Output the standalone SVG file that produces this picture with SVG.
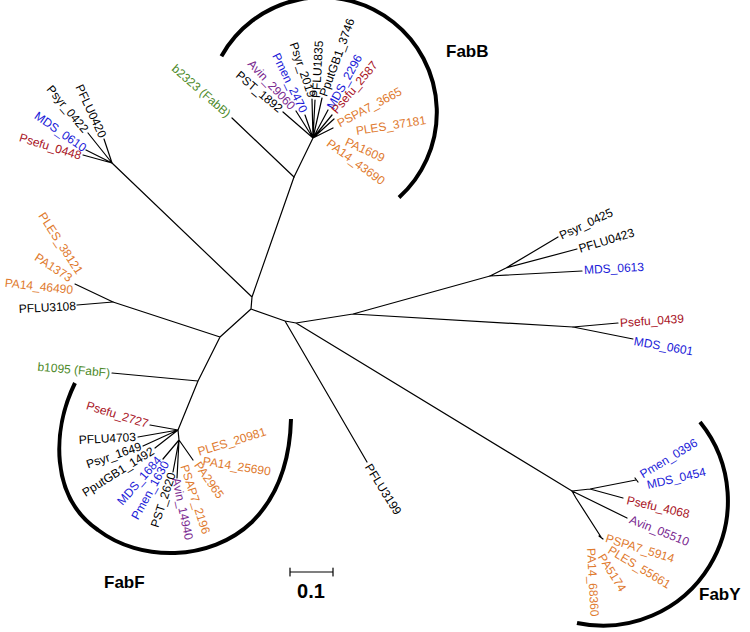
<svg xmlns="http://www.w3.org/2000/svg" width="750" height="632" viewBox="0 0 750 632">
<style>
.br{fill:none;stroke:#000;stroke-width:1.2;stroke-linecap:round}
.arc{fill:none;stroke:#000;stroke-width:4;stroke-linecap:butt}
.t{font-family:"Liberation Sans",Arial,sans-serif;font-size:12px;dominant-baseline:central}
.e{text-anchor:end}
.k{fill:#000}.b{fill:#1a1ad8}.r{fill:#a8121e}.p{fill:#7a2890}.o{fill:#e07a2e}.g{fill:#4d8a2a}
.cl{font-family:"Liberation Sans",Arial,sans-serif;font-size:17px;font-weight:bold;fill:#000}
</style>
<rect width="750" height="632" fill="#fff"/>
<g id="connectors">
<path class="br" d="M252,297L251,309M252,297L294,177M252,297L112,163M251,309L220,337M220,337L113,302M220,337L198,381M198,381L112,373M198,381L178,430M251,309L285,321M285,321L367,462M285,321L296,323M296,323L353,314M353,314L490,276M353,314L573,327M296,323L572,491"/>
<path class="br" d="M294,177L232,118M294,177L313,138M313,138L283,112M313,138L296,111M313,138L305,115M313,138L312,99M313,138L315,100M313,138L322,98M313,138L328,110M313,138L332,115M313,138L334,119M313,138L333,128"/>
<path class="br" d="M112,163L104,139M112,163L88,133M112,163L86,150M112,163L83,155"/>
<path class="br" d="M113,302L77,305M113,302L75,284"/>
<path class="br" d="M178,430L150,425M178,430L138,437M178,430L143,446M178,430L155,448M178,430L179,440M179,440L163,459M179,440L173,472M179,440L177,478M179,440L193,460"/>
<path class="br" d="M490,276L506,268L558,237M506,268L577,249M490,276L582,271M573,327L618,323M573,327L633,339"/>
<path class="br" d="M572,491L590,489L636,480M590,489L623,498M572,491L627,518M572,491L576,498L601,537M635,478L638,482M599,536L603,539"/>
</g>
<g id="clades">
<path class="arc" d="M221.4,56.2A115,115 0 1 1 399,197.5"/>
<path class="arc" d="M75,383C52,430 50,497 98,530C140,562 210,562 252,522C278,496 290,460 291,419"/>
<path class="arc" d="M700,422A125,125 0 0 1 577,623"/>
<text class="cl" x="446" y="57">FabB</text>
<text class="cl" x="104" y="588">FabF</text>
<text class="cl" x="699" y="600">FabY</text>
</g>
<g id="scale">
<path class="br" d="M290,572L333,572M290,568L290,576M333,568L333,576"/>
<text x="311" y="598" text-anchor="middle" style="font-family:'Liberation Sans',Arial,sans-serif;font-size:20px;font-weight:bold">0.1</text>
</g>
<g id="n1"><text class="t g e" transform="translate(229,115) rotate(41)">b2323 (FabB)</text></g>
<g id="n2"><text class="t k e" transform="translate(281,110) rotate(40)">PST_1892</text></g>
<g id="n3"><text class="t p e" transform="translate(293,108) rotate(47)">Avin_29060</text></g>
<g id="n4"><text class="t b e" transform="translate(304,112) rotate(64)">Pmen_2470</text></g>
<g id="n5"><text class="t k e" transform="translate(312,97) rotate(71)">Psyr_2019</text></g>
<g id="n6"><text class="t k" transform="translate(316,98) rotate(-87)">PFLU1835</text></g>
<g id="n7"><text class="t k" transform="translate(323,96) rotate(-70)">PputGB1_3746</text></g>
<g id="n8"><text class="t b" transform="translate(330,108) rotate(-61)">MDS_2296</text></g>
<g id="n9"><text class="t r" transform="translate(334,112) rotate(-50)">Psefu_2587</text></g>
<g id="n10"><text class="t o" transform="translate(338,124) rotate(-28)">PSPA7_3665</text></g>
<g id="n11"><text class="t o" transform="translate(356,131) rotate(-9)">PLES_37181</text></g>
<g id="n12"><text class="t o" transform="translate(346,141) rotate(25)">PA1609</text></g>
<g id="n13"><text class="t o" transform="translate(328,142) rotate(36)">PA14_43690</text></g>
<g id="n14"><text class="t k e" transform="translate(103,137) rotate(65)">PFLU0420</text></g>
<g id="n15"><text class="t k e" transform="translate(86,131) rotate(50)">Psyr_0422</text></g>
<g id="n16"><text class="t b e" transform="translate(85,149) rotate(35)">MDS_0610</text></g>
<g id="n17"><text class="t r e" transform="translate(81,156) rotate(17)">Psefu_0448</text></g>
<g id="n18"><text class="t o e" transform="translate(80,273) rotate(57)">PLES_38121</text></g>
<g id="n19"><text class="t o e" transform="translate(71,279) rotate(33)">PA1373</text></g>
<g id="n20"><text class="t o e" transform="translate(73,290) rotate(6)">PA14_46490</text></g>
<g id="n21"><text class="t k e" transform="translate(76,306) rotate(-3)">PFLU3108</text></g>
<g id="n22"><text class="t g e" transform="translate(110,373) rotate(5)">b1095 (FabF)</text></g>
<g id="n23"><text class="t r e" transform="translate(148,424) rotate(17)">Psefu_2727</text></g>
<g id="n24"><text class="t k e" transform="translate(136,437) rotate(-3)">PFLU4703</text></g>
<g id="n25"><text class="t k e" transform="translate(141,446) rotate(-19)">Psyr_1649</text></g>
<g id="n26"><text class="t k e" transform="translate(153,450) rotate(-32)">PputGB1_1492</text></g>
<g id="n27"><text class="t b e" transform="translate(159,458) rotate(-49)">MDS_1684</text></g>
<g id="n28"><text class="t b e" transform="translate(166,462) rotate(-61)">Pmen_1630</text></g>
<g id="n29"><text class="t k e" transform="translate(172,473) rotate(-72)">PST_2620</text></g>
<g id="n30"><text class="t p" transform="translate(176,478) rotate(78)">Avin_14940</text></g>
<g id="n31"><text class="t o" transform="translate(184,465) rotate(72)">PSAP7_2196</text></g>
<g id="n32"><text class="t o" transform="translate(197,463) rotate(55)">PA2965</text></g>
<g id="n33"><text class="t o" transform="translate(203,461) rotate(9)">PA14_25690</text></g>
<g id="n34"><text class="t o" transform="translate(198,452) rotate(-17)">PLES_20981</text></g>
<g id="n35"><text class="t k" transform="translate(560,236) rotate(-25)">Psyr_0425</text></g>
<g id="n36"><text class="t k" transform="translate(579,249) rotate(-17)">PFLU0423</text></g>
<g id="n37"><text class="t b" transform="translate(584,270) rotate(-3)">MDS_0613</text></g>
<g id="n38"><text class="t r" transform="translate(620,323) rotate(-4)">Psefu_0439</text></g>
<g id="n39"><text class="t b" transform="translate(634,341) rotate(10)">MDS_0601</text></g>
<g id="n40"><text class="t k" transform="translate(368,465) rotate(58)">PFLU3199</text></g>
<g id="n41"><text class="t b" transform="translate(641,475) rotate(-31)">Pmen_0396</text></g>
<g id="n42"><text class="t b" transform="translate(647,485) rotate(-13)">MDS_0454</text></g>
<g id="n43"><text class="t r" transform="translate(627,500) rotate(13)">Psefu_4068</text></g>
<g id="n44"><text class="t p" transform="translate(630,519) rotate(22)">Avin_05510</text></g>
<g id="n45"><text class="t o" transform="translate(606,538) rotate(17)">PSPA7_5914</text></g>
<g id="n46"><text class="t o" transform="translate(609,549) rotate(31)">PLES_55661</text></g>
<g id="n47"><text class="t o" transform="translate(601,555) rotate(58)">PA5174</text></g>
<g id="n48"><text class="t o" transform="translate(591,548) rotate(87)">PA14_68360</text></g>
</svg>
